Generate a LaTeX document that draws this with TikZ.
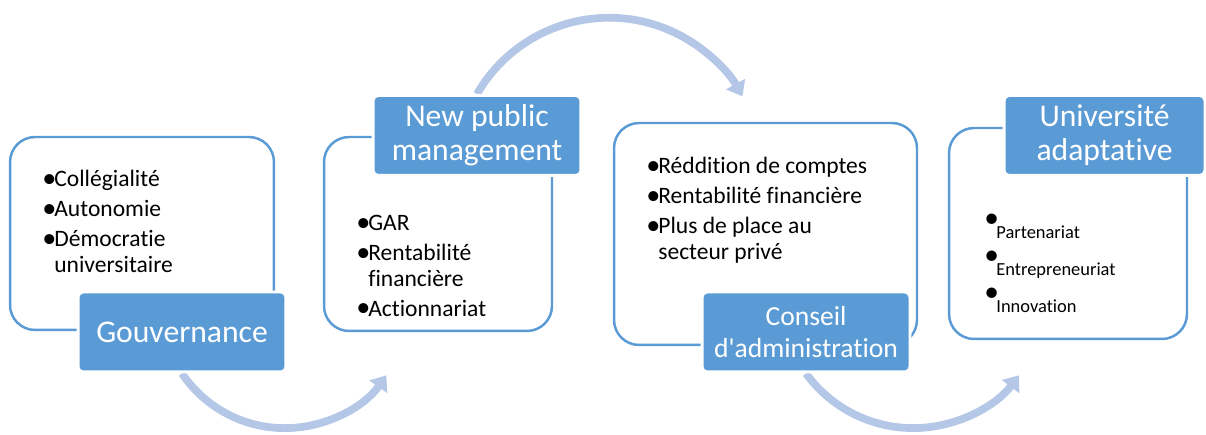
\documentclass[tikz,border=0pt]{standalone}
\usepackage{fontspec}
\setmainfont{Carlito}[Ligatures={TeXOff,CommonOff}]
\usetikzlibrary{arrows.meta,backgrounds}
\definecolor{bleuCadre}{HTML}{5B9BD5}
\definecolor{bleuFleche}{HTML}{B4C7E7}
\newcommand{\puce}{\makebox[0.24cm][l]{\raisebox{-0.4pt}{\scalebox{1.2}{•}}}}
\newcommand{\retrait}{\hspace{0.24cm}}
\newcommand{\pucehaute}{\makebox[0.24cm][l]{\raisebox{6pt}{\fontsize{13.4}{14}\selectfont\scalebox{1.25}{•}}}}
\begin{document}
\begin{tikzpicture}[x=0.02cm, y=0.02cm,
	cadre/.style={draw=bleuCadre, line width=1.4pt, rounded corners=0.5cm, fill=white},
	titre/.style={fill=bleuCadre, draw=white, line width=1.7pt, rounded corners=0.1cm,
		minimum width=4.16cm, minimum height=1.6cm, inner sep=0pt, text=white,
		align=center, font=\fontsize{18}{19.3}\selectfont},
	liste/.style={anchor=north west, inner sep=0pt, align=left, font=\fontsize{13.4}{14.7}\selectfont},
	fleche/.style={draw=bleuFleche, line width=4.4pt, -{Triangle[length=8pt,width=12pt]}}]

	\useasboundingbox (0,0) rectangle (1206,435);

	% cadres
	\node[cadre, minimum width=5.28cm, minimum height=3.86cm] (cadre1) at (142,201.5) {};
	\node[cadre, minimum width=4.56cm, minimum height=3.88cm] (cadre2) at (438,201) {};
	\node[cadre, minimum width=6.06cm, minimum height=4.44cm] (cadre3) at (765.5,201) {};
	\node[cadre, minimum width=4.76cm, minimum height=4.22cm] (cadre4) at (1068,201.5) {};

	% titres
	\node[titre] (titre1) at (182,103) {Gouvernance};
	\node[titre] (titre2) at (477,299.5) {New public\\management};
	\node[titre, font=\fontsize{15.7}{18}\selectfont] (titre3) at (806,103) {Conseil\\d'administration};
	\node[titre, minimum width=4.02cm] (titre4) at (1104.5,299.5) {Université\\adaptative};

	% listes
	\node[liste] (liste1) at (42,265) {\puce Collégialité\\[2.3pt]\puce Autonomie\\[2.3pt]\puce Démocratie\\\retrait universitaire};
	\node[liste] (liste2) at (356,220) {\puce GAR\\[2.3pt]\puce Rentabilité\\\retrait financière\\[2.3pt]\puce Actionnariat};
	\node[liste] (liste3) at (646,278) {\puce Réddition de comptes\\[2.3pt]\puce Rentabilité financière\\[2.3pt]\puce Plus de place au\\\retrait secteur privé};
	\node[liste, font=\fontsize{10.5}{21}\selectfont] (liste4) at (984,221) {\pucehaute Partenariat\\\pucehaute Entrepreneuriat\\\pucehaute Innovation};

	% fleches
	\begin{scope}[on background layer]
	\draw[fleche] (titre1.south) arc[start angle=214, end angle=325, radius=2.48cm];
	\draw[fleche] (titre2.north) arc[start angle=150, end angle=29, radius=3.05cm];
	\draw[fleche] (titre3.south) arc[start angle=216, end angle=323, radius=2.65cm];
	\end{scope}

\end{tikzpicture}
\end{document}
